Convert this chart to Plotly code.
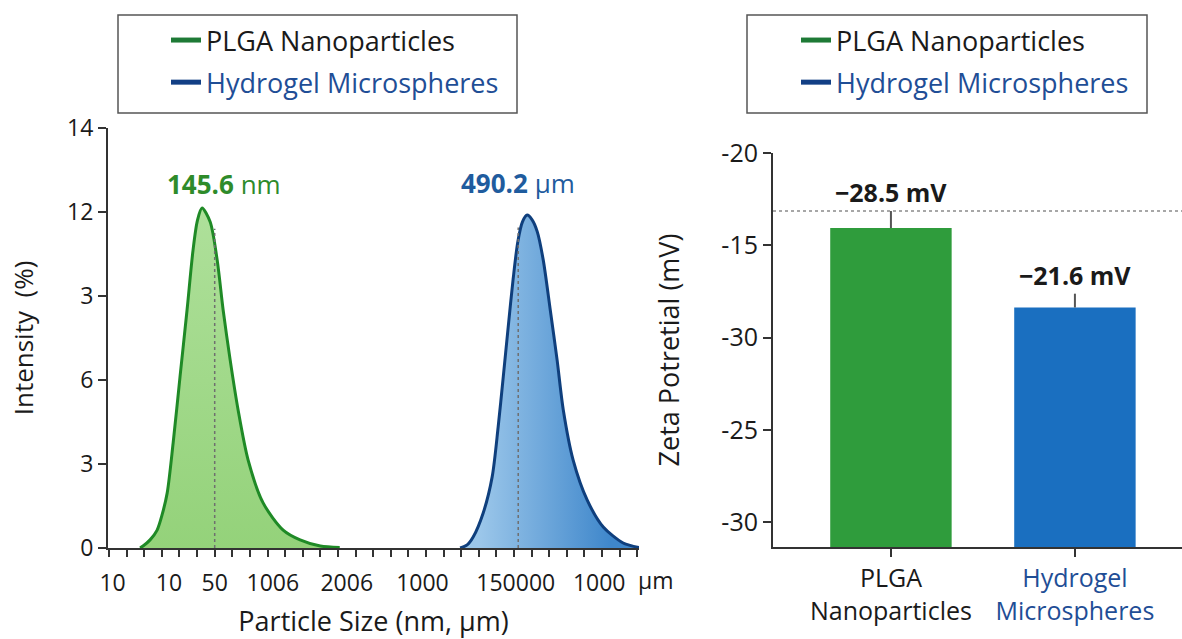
import plotly.graph_objects as go

# ---------------- data ----------------
# Left panel: size distribution (x = position along the size axis, y = intensity units)
plga_x = [1.76, 1.93, 2.33, 2.73, 3.01, 3.30, 3.64, 4.03, 4.43, 4.77, 5.02, 5.28,
          5.74, 6.14, 6.48, 6.88, 7.33, 7.90, 8.75, 9.89, 10.85, 12.0, 13.1]
plga_y = [0, 0.07, 0.29, 0.64, 1.18, 1.96, 3.75, 6.11, 8.5, 10.64, 11.7, 12.14,
          11.65, 10.29, 8.5, 6.71, 4.93, 3.14, 1.61, 0.64, 0.29, 0.07, 0.02]

hyd_x = [19.94, 20.34, 20.68, 21.25, 21.76, 22.10, 22.39, 22.67, 22.95, 23.22, 23.48, 23.75,
         24.03, 24.32, 24.66, 25.06, 25.45, 25.80, 26.36, 27.16, 28.07, 29.2, 30.1]
hyd_y = [0, 0.11, 0.39, 1.25, 2.54, 4.32, 6.11, 7.89, 9.6, 10.95, 11.65, 11.89,
         11.72, 11.3, 10.29, 8.5, 6.71, 4.93, 3.14, 1.71, 0.75, 0.18, 0.02]

peak_x = [6.0, 23.24]          # dotted mean markers
peak_top = [11.4, 11.45]
peak_labels = ["<b>145.6</b> nm", "<b>490.2</b> μm"]
peak_label_x = [6.55, 23.24]
peak_label_y = [13.0, 13.04]

size_tick_pos = [0.2, 3.4, 6.0, 9.3, 13.5, 17.8, 23.1, 27.84]
size_tick_text = ["10", "10", "50", "1006", "2006", "1000", "150000", "1000"]
size_minor_ticks = list(range(0, 31))

int_tick_pos = [0, 3, 6, 9, 12, 15]
int_tick_text = ["0", "3", "6", "3", "12", "14"]

# Right panel: zeta potential (bar heights in axis position units)
zeta_cats = ["PLGA Nanoparticles", "Hydrogel Microspheres"]
zeta_cat_text = ["PLGA<br>Nanoparticles",
                 "<span style='color:#1f4e96'>Hydrogel</span><br><span style='color:#1f4e96'>Microspheres</span>"]
zeta_height = [4.187, 3.325]
zeta_err = [0.184, 0.15]
zeta_labels = ["<b>−28.5 mV</b>", "<b>−21.6 mV</b>"]
zeta_ref = 4.371

zeta_tick_pos = [1, 2, 3, 4, 5]
zeta_tick_text = ["-30", "-25", "-30", "-15", "-20"]

# ---------------- styling ----------------
FONT = "Open Sans"
GREEN_LINE = "#1f8a26"
BLUE_LINE = "#0f3f7d"
GREEN_LEG = "#1e7a36"
BLUE_LEG = "#123f85"
BLUE_TXT = "#1f4e96"
AX = "#333333"
W, H = 1182, 639

fig = go.Figure()

# distributions
fig.add_trace(go.Scatter(
    x=plga_x, y=plga_y, mode="lines", line=dict(color=GREEN_LINE, width=3, shape="spline", smoothing=0.8),
    fill="tozeroy",
    fillgradient=dict(type="vertical", colorscale=[[0, "#94d27a"], [1, "#aee09a"]], start=0, stop=12),
    xaxis="x", yaxis="y", showlegend=False, hoverinfo="skip"))
fig.add_trace(go.Scatter(
    x=hyd_x, y=hyd_y, mode="lines", line=dict(color=BLUE_LINE, width=3, shape="spline", smoothing=0.8),
    fill="tozeroy",
    fillgradient=dict(type="horizontal", colorscale=[[0, "#9cc7ea"], [1, "#3f87cb"]], start=21, stop=28.5),
    xaxis="x", yaxis="y", showlegend=False, hoverinfo="skip"))

# dotted peak markers
for px, pt in zip(peak_x, peak_top):
    fig.add_trace(go.Scatter(
        x=[px, px], y=[0, pt], mode="lines",
        line=dict(color="#6f6f6f", width=1.5, dash="dot"),
        xaxis="x", yaxis="y", showlegend=False, hoverinfo="skip"))

# peak labels
for txt, lx, ly, col in zip(peak_labels, peak_label_x, peak_label_y, ["#2e8b2a", "#1f5c9e"]):
    fig.add_annotation(x=lx, y=ly, xref="x", yref="y", text=txt, showarrow=False,
                       font=dict(family=FONT, size=26, color=col))

# bars
fig.add_trace(go.Bar(
    x=zeta_cats, y=zeta_height, width=0.66,
    marker=dict(color=["#2f9c3c", "#1a6fc0"], line=dict(width=0)),
    error_y=dict(type="data", array=zeta_err, arrayminus=[0, 0], symmetric=False,
                 color="#555555", thickness=2, width=0),
    xaxis="x2", yaxis="y2", showlegend=False, hoverinfo="skip"))

for cat, h, e, lab in zip(zeta_cats, zeta_height, zeta_err, zeta_labels):
    fig.add_annotation(x=cat, y=h + e, xref="x2", yref="y2", text=lab, showarrow=False,
                       yanchor="bottom", yshift=0, font=dict(family=FONT, size=25, color="#1a1a1a"))

# reference dotted line
fig.add_shape(type="line", xref="x2 domain", yref="y2", x0=0, x1=1, y0=zeta_ref, y1=zeta_ref,
              line=dict(color="#8a8a8a", width=1.5, dash="dot"))

# legend entries (line symbols)
for leg in ["legend", "legend2"]:
    fig.add_trace(go.Scatter(x=[None], y=[None], mode="lines", name="PLGA Nanoparticles",
                             line=dict(color=GREEN_LEG, width=5), legend=leg,
                             legendgroup=leg + "a", xaxis="x", yaxis="y"))
    fig.add_trace(go.Scatter(x=[None], y=[None], mode="lines",
                             name=f"<span style='color:{BLUE_TXT}'>Hydrogel Microspheres</span>",
                             line=dict(color=BLUE_LEG, width=5), legend=leg,
                             legendgroup=leg + "b", xaxis="x", yaxis="y"))

leg_common = dict(font=dict(family=FONT, size=27, color="#1a1a1a"), bgcolor="rgba(0,0,0,0)",
                  borderwidth=0, traceorder="grouped", tracegroupgap=4,
                  xanchor="left", yanchor="top", itemclick=False, itemdoubleclick=False)

# legend boxes
fig.add_shape(type="rect", xref="paper", yref="paper",
              x0=118 / W, x1=517 / W, y0=1 - 113 / H, y1=1 - 15 / H,
              line=dict(color="#555555", width=1.5))
fig.add_shape(type="rect", xref="paper", yref="paper",
              x0=747 / W, x1=1147 / W, y0=1 - 113 / H, y1=1 - 15 / H,
              line=dict(color="#555555", width=1.5))

axis_font = dict(family=FONT, size=23, color="#1a1a1a")
title_font = dict(family=FONT, size=27, color="#1a1a1a")

fig.update_layout(
    width=W, height=H, autosize=False,
    margin=dict(l=0, r=0, t=0, b=0, autoexpand=False),
    paper_bgcolor="white", plot_bgcolor="white",
    font=dict(family=FONT, color="#1a1a1a"),
    barmode="overlay",
    legend=dict(x=166 / W, y=1 - 16 / H, **leg_common),
    legend2=dict(x=796 / W, y=1 - 16 / H, **leg_common),
    xaxis=dict(domain=[108 / W, 639 / W], range=[-0.06, 30.1], automargin=False,
               tickmode="array", tickvals=size_tick_pos, ticktext=size_tick_text,
               ticks="outside", ticklen=13, tickcolor="rgba(0,0,0,0)",
               minor=dict(tickmode="array", tickvals=size_minor_ticks, ticks="outside",
                          ticklen=7, tickwidth=1.5, tickcolor=AX, showgrid=False),
               showline=True, linecolor=AX, linewidth=2, showgrid=False, zeroline=False,
               tickfont=axis_font,
               title=dict(text="Particle Size (nm, μm)", font=title_font, standoff=20)),
    yaxis=dict(domain=[1 - 548 / H, 1 - 128 / H], range=[0, 15], automargin=False,
               tickmode="array", tickvals=int_tick_pos, ticktext=int_tick_text,
               ticks="outside", ticklen=8, tickwidth=1.5, tickcolor=AX,
               showline=True, linecolor=AX, linewidth=2, showgrid=False, zeroline=False,
               tickfont=axis_font,
               title=dict(text="Intensity  (%)", font=dict(family=FONT, size=26, color="#1a1a1a"),
                          standoff=26)),
    xaxis2=dict(domain=[773 / W, 1.0], range=[-0.641, 1.582], type="category", automargin=False,
                tickmode="array", tickvals=zeta_cats, ticktext=zeta_cat_text,
                ticks="outside", ticklen=8, tickwidth=1.5, tickcolor=AX,
                showline=True, linecolor=AX, linewidth=2, showgrid=False, zeroline=False,
                tickfont=dict(family=FONT, size=25, color="#1a1a1a"), anchor="y2"),
    yaxis2=dict(domain=[1 - 547 / H, 1 - 153 / H], range=[0.729, 5.0], automargin=False,
                tickmode="array", tickvals=zeta_tick_pos, ticktext=zeta_tick_text,
                ticks="outside", ticklen=8, tickwidth=1.5, tickcolor=AX,
                showline=True, linecolor=AX, linewidth=2, showgrid=False, zeroline=False,
                tickfont=dict(family=FONT, size=25, color="#1a1a1a"), anchor="x2",
                title=dict(text="Zeta Potretial (mV)", font=dict(family=FONT, size=27, color="#1a1a1a"),
                           standoff=34)),
)

# unit marker after last size tick
fig.add_annotation(x=636 / W, y=1 - 562 / H, xref="paper", yref="paper", text="μm", showarrow=False,
                   xanchor="left", yanchor="top",
                   font=dict(family=FONT, size=23, color="#1a1a1a"))

fig.write_html("out.html", config={"displayModeBar": False},
               post_script="document.body.style.margin='0px';document.body.style.padding='0px';")
